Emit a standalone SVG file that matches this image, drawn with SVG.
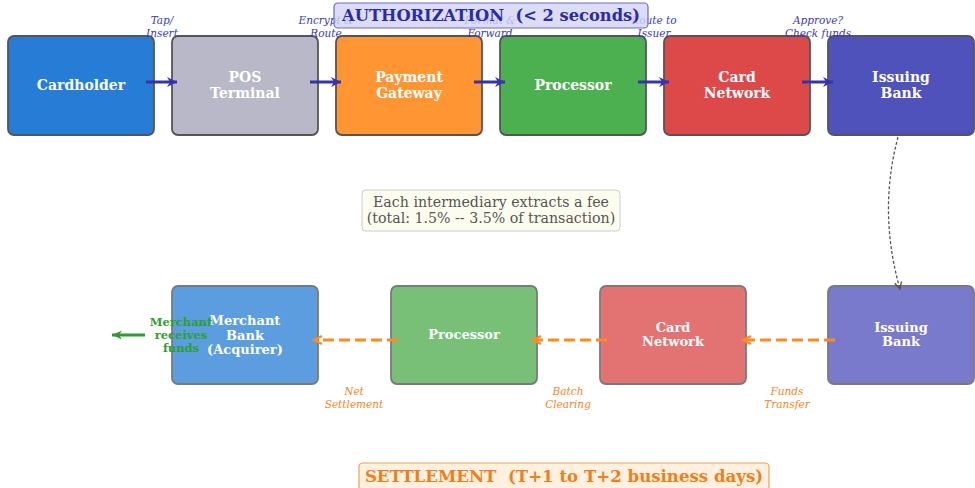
<svg xmlns="http://www.w3.org/2000/svg" width="975" height="488" viewBox="0 0 975 488">
  <defs>
    <style>
      text { font-family: "DejaVu Serif", "Liberation Serif", serif; }
      .node-top rect { stroke: #555; stroke-width: 1.8; }
      .node-bot rect { stroke: #7a7a7a; stroke-width: 1.8; }
      .lbl { fill: #fff; font-weight: bold; text-anchor: middle; }
      .lt { font-size: 14px; }
      .lb { font-size: 13px; }
      .auth-note { fill: #3b3bb8; font-style: italic; font-size: 10.5px; text-anchor: middle; }
      .set-note { fill: #f5841f; font-style: italic; font-size: 10.5px; text-anchor: middle; }
      .auth-arrow { stroke: #3535aa; stroke-width: 3; fill: none; }
      .set-arrow { stroke: #ff8a22; stroke-width: 3; fill: none; stroke-dasharray: 11 5; }
    </style>
    <marker id="ah-blue" markerUnits="userSpaceOnUse" markerWidth="12" markerHeight="12" refX="10" refY="6" orient="auto">
      <path d="M0,1 L10,6 L0,11 L3,6 Z" fill="#3535aa"/>
    </marker>
    <marker id="ah-orange" markerUnits="userSpaceOnUse" markerWidth="12" markerHeight="12" refX="9" refY="6" orient="auto">
      <path d="M1,2 L9,6 L1,10" fill="none" stroke="#ff8a22" stroke-width="2.5"/>
    </marker>
    <marker id="ah-green" markerUnits="userSpaceOnUse" markerWidth="12" markerHeight="12" refX="10" refY="6" orient="auto">
      <path d="M0,1.5 L10,6 L0,10.5 L3,6 Z" fill="#2ca02c"/>
    </marker>
    <marker id="ah-gray" markerUnits="userSpaceOnUse" markerWidth="10" markerHeight="10" refX="8" refY="5" orient="auto">
      <path d="M1,1.5 L8,5 L1,8.5" fill="none" stroke="#555" stroke-width="1.3"/>
    </marker>
  </defs>

  <rect width="975" height="488" fill="#fff"/>

  <!-- authorization row -->
  <g id="auth-cardholder" class="node-top">
    <rect x="8" y="36" width="146" height="99" rx="6" fill="#277dd5"/>
    <text class="lbl lt" x="81" y="90">Cardholder</text>
  </g>
  <g id="auth-pos" class="node-top">
    <rect x="172" y="36" width="146" height="99" rx="6" fill="#b8b8c9"/>
    <text class="lbl lt" x="245" y="82">POS</text>
    <text class="lbl lt" x="245" y="98">Terminal</text>
  </g>
  <g id="auth-gateway" class="node-top">
    <rect x="336" y="36" width="146" height="99" rx="6" fill="#ff9533"/>
    <text class="lbl lt" x="409" y="82">Payment</text>
    <text class="lbl lt" x="409" y="98">Gateway</text>
  </g>
  <g id="auth-processor" class="node-top">
    <rect x="500" y="36" width="146" height="99" rx="6" fill="#4caf50"/>
    <text class="lbl lt" x="573" y="90">Processor</text>
  </g>
  <g id="auth-network" class="node-top">
    <rect x="664" y="36" width="146" height="99" rx="6" fill="#dd4848"/>
    <text class="lbl lt" x="737" y="82">Card</text>
    <text class="lbl lt" x="737" y="98">Network</text>
  </g>
  <g id="auth-issuer" class="node-top">
    <rect x="828" y="36" width="146" height="99" rx="6" fill="#5052bb"/>
    <text class="lbl lt" x="901" y="82">Issuing</text>
    <text class="lbl lt" x="901" y="98">Bank</text>
  </g>

  <!-- settlement row -->
  <g id="set-merchant-bank" class="node-bot">
    <rect x="172" y="286" width="146" height="98" rx="6" fill="#5b9ddf"/>
    <text class="lbl lb" x="245" y="325">Merchant</text>
    <text class="lbl lb" x="245" y="340">Bank</text>
    <text class="lbl lb" x="245" y="354">(Acquirer)</text>
  </g>
  <g id="set-processor" class="node-bot">
    <rect x="391" y="286" width="146" height="98" rx="6" fill="#78c078"/>
    <text class="lbl lb" x="464" y="339">Processor</text>
  </g>
  <g id="set-network" class="node-bot">
    <rect x="600" y="286" width="146" height="98" rx="6" fill="#e37373"/>
    <text class="lbl lb" x="673" y="332">Card</text>
    <text class="lbl lb" x="673" y="346">Network</text>
  </g>
  <g id="set-issuer" class="node-bot">
    <rect x="828" y="286" width="146" height="98" rx="6" fill="#7a7acc"/>
    <text class="lbl lb" x="901" y="332">Issuing</text>
    <text class="lbl lb" x="901" y="346">Bank</text>
  </g>

  <!-- connectors -->
  <g id="connectors">
    <path class="auth-arrow" d="M146,82 H177" marker-end="url(#ah-blue)"/>
    <path class="auth-arrow" d="M310,82 H341" marker-end="url(#ah-blue)"/>
    <path class="auth-arrow" d="M474,82 H505" marker-end="url(#ah-blue)"/>
    <path class="auth-arrow" d="M638,82 H669" marker-end="url(#ah-blue)"/>
    <path class="auth-arrow" d="M802,82 H833" marker-end="url(#ah-blue)"/>

    <path d="M898,137 Q878,212 900,289" fill="none" stroke="#555" stroke-width="1.3" stroke-dasharray="3 2" marker-end="url(#ah-gray)"/>

    <path class="set-arrow" d="M835,340 H743" marker-end="url(#ah-orange)"/>
    <path class="set-arrow" d="M607,340 H533" marker-end="url(#ah-orange)"/>
    <path class="set-arrow" d="M398,340 H314" marker-end="url(#ah-orange)"/>

    <path d="M145,335 H112" stroke="#2ca02c" stroke-width="3" fill="none" marker-end="url(#ah-green)"/>
  </g>

  <!-- step notes -->
  <g id="auth-notes">
    <text class="auth-note" x="162" y="24">Tap/</text>
    <text class="auth-note" x="162" y="37">Insert</text>
    <text class="auth-note" x="326" y="24">Encrypt &amp;</text>
    <text class="auth-note" x="326" y="37">Route</text>
    <text class="auth-note" x="490" y="24">Format &amp;</text>
    <text class="auth-note" x="490" y="37">Forward</text>
    <text class="auth-note" x="654" y="24">Route to</text>
    <text class="auth-note" x="654" y="37">Issuer</text>
    <text class="auth-note" x="818" y="24">Approve?</text>
    <text class="auth-note" x="818" y="37">Check funds</text>
  </g>
  <g id="set-notes">
    <text class="set-note" x="354" y="395">Net</text>
    <text class="set-note" x="354" y="408">Settlement</text>
    <text class="set-note" x="568" y="395">Batch</text>
    <text class="set-note" x="568" y="408">Clearing</text>
    <text class="set-note" x="787" y="395">Funds</text>
    <text class="set-note" x="787" y="408">Transfer</text>
  </g>

  <g id="payout-label" font-weight="bold" font-size="11.5" fill="#2ca02c" text-anchor="middle">
    <text x="181" y="326">Merchant</text>
    <text x="181" y="339">receives</text>
    <text x="181" y="352">funds</text>
  </g>

  <!-- titles -->
  <g id="auth-title">
    <rect x="334" y="3" width="314" height="25" rx="4" fill="#d4d4f2" fill-opacity="0.82" stroke="#6a6ad0" stroke-width="1.2"/>
    <text x="491" y="21" font-size="16.3" font-weight="bold" fill="#2b2ba8" text-anchor="middle" xml:space="preserve">AUTHORIZATION  (&lt; 2 seconds)</text>
  </g>

  <g id="fee-note">
    <rect x="362" y="190" width="258" height="41" rx="4" fill="#fdfdef" stroke="#cccccc" stroke-width="1"/>
    <text x="491" y="207" font-size="14.2" fill="#555" text-anchor="middle">Each intermediary extracts a fee</text>
    <text x="491" y="223" font-size="14.2" fill="#555" text-anchor="middle">(total: 1.5% -- 3.5% of transaction)</text>
  </g>

  <g id="set-title">
    <rect x="359" y="463" width="410" height="30" rx="4" fill="#fff0e0" stroke="#f0a050" stroke-width="1.2"/>
    <text x="564" y="482" font-size="16.6" font-weight="bold" fill="#f07f1a" text-anchor="middle" xml:space="preserve">SETTLEMENT  (T+1 to T+2 business days)</text>
  </g>
</svg>
